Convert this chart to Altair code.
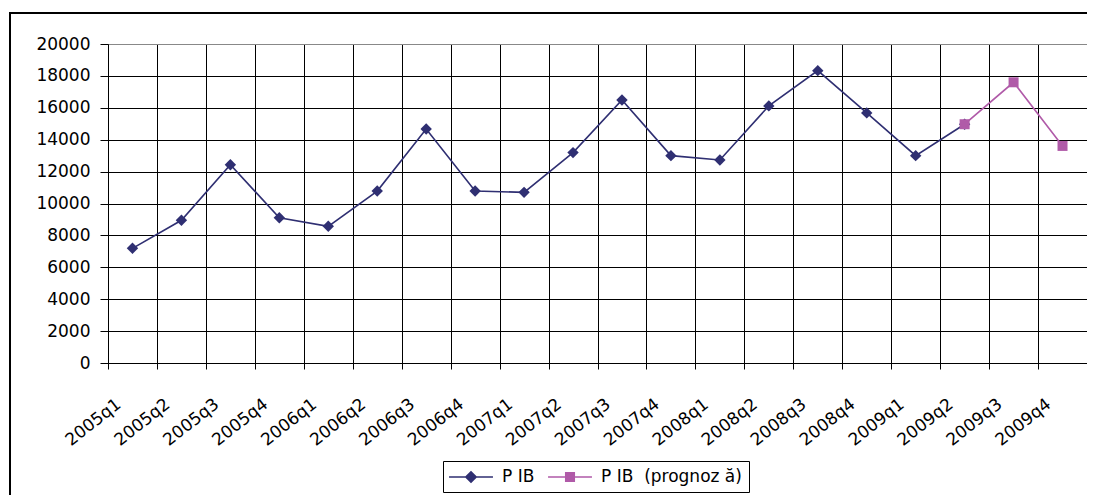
import altair as alt
import pandas as pd

quarters = ["2005q1", "2005q2", "2005q3", "2005q4", "2006q1", "2006q2", "2006q3", "2006q4",
            "2007q1", "2007q2", "2007q3", "2007q4", "2008q1", "2008q2", "2008q3", "2008q4",
            "2009q1", "2009q2", "2009q3", "2009q4"]
pib_quarters = quarters[:18]
pib_values = [7190, 8950, 12430, 9110, 8570, 10780, 14670, 10780, 10700, 13190,
              16490, 13000, 12730, 16120, 18330, 15680, 13000, 14970]
forecast_quarters = ["2009q2", "2009q3", "2009q4"]
forecast_values = [14970, 17600, 13610]
series_names = ["P IB", "P IB\u00a0\u00a0(prognoz ă)"]
series_colors = ["#2f2f72", "#b05aa8"]
y_ticks = list(range(0, 20001, 2000))

rows = [{"q": q, "v": v, "s": series_names[0]} for q, v in zip(pib_quarters, pib_values)]
rows += [{"q": q, "v": v, "s": series_names[1]} for q, v in zip(forecast_quarters, forecast_values)]
df = pd.DataFrame(rows)

FONT = "DejaVu Sans"
# legend symbols: a thin filled bar (the line) plus the marker, in units of sqrt(size)/2 = 9px
diamond_path = "M-2.44,-0.08H2.44V0.08H-2.44ZM0,-0.7L0.7,0L0,0.7L-0.7,0Z"
square_path = "M-2.44,-0.08H2.44V0.08H-2.44ZM-0.56,-0.56H0.56V0.56H-0.56Z"

legend = alt.Legend(
    orient="none", legendX=335, legendY=417, direction="horizontal", title=None,
    strokeColor="black", fillColor="white", padding=7,
    labelFont=FONT, labelFontSize=17, labelColor="black",
    symbolSize=324, symbolStrokeWidth=0, symbolOffset=12, columnPadding=13, labelOffset=22,
)

x = alt.X("q:N", sort=quarters, bandPosition=0.5, title=None,
          scale=alt.Scale(type="band", domain=quarters, paddingInner=0, paddingOuter=0),
          axis=alt.Axis(tickBand="extent", labelAngle=-38, labelAlign="right", labelBaseline="middle",
                        labelOffset=-14, labelPadding=33, tickSize=6, tickColor="black",
                        domainColor="black", gridColor="black", grid=True, gridOpacity=1,
                        labelFont=FONT, labelFontSize=17, labelColor="black"))
y = alt.Y("v:Q", title=None, scale=alt.Scale(domain=[0, 20000], nice=False),
          axis=alt.Axis(values=y_ticks, format="d", tickSize=8, tickColor="black", domainColor="black",
                        gridColor={"condition": {"test": "datum.value == 20000", "value": "#888888"}, "value": "black"},
                        labelPadding=10, labelFont=FONT, labelFontSize=17, labelColor="black"))

color = alt.Color("s:N", scale=alt.Scale(domain=series_names, range=series_colors), legend=None)

frame = alt.Chart(pd.DataFrame({"a": [0]})).mark_rect(filled=False, stroke="black", strokeWidth=2).encode(
    x=alt.value(-98), y=alt.value(-31), x2=alt.value(1300), y2=alt.value(800))

lines = alt.Chart(df).mark_line(strokeWidth=1.6).encode(x=x, y=y, color=color, detail="s:N")
points = alt.Chart(df).mark_point(filled=True, opacity=1).encode(
    x=x, y=y, color=color,
    shape=alt.Shape("s:N", scale=alt.Scale(domain=series_names, range=["diamond", "square"]), legend=None),
    size=alt.Size("s:N", scale=alt.Scale(domain=series_names, range=[130, 100]), legend=None))

legend_holder = alt.Chart(df).transform_filter("false").mark_point(filled=True, opacity=1).encode(
    x=x, y=y,
    color=alt.Color("s:N", scale=alt.Scale(domain=series_names, range=series_colors), legend=legend),
    shape=alt.Shape("s:N", scale=alt.Scale(domain=series_names, range=[diamond_path, square_path]), legend=legend),
)

chart = alt.layer(frame, lines, points, legend_holder).resolve_scale(
    shape="independent", color="independent", size="independent"
).properties(
    width=979, height=319,
    padding={"left": 100, "top": 36, "right": 0, "bottom": 132},
    autosize=alt.AutoSizeParams(type="none"),
).configure_view(stroke="#888888").configure(background="white")

chart.save("out.html", embed_options={"renderer": "svg", "actions": False})
